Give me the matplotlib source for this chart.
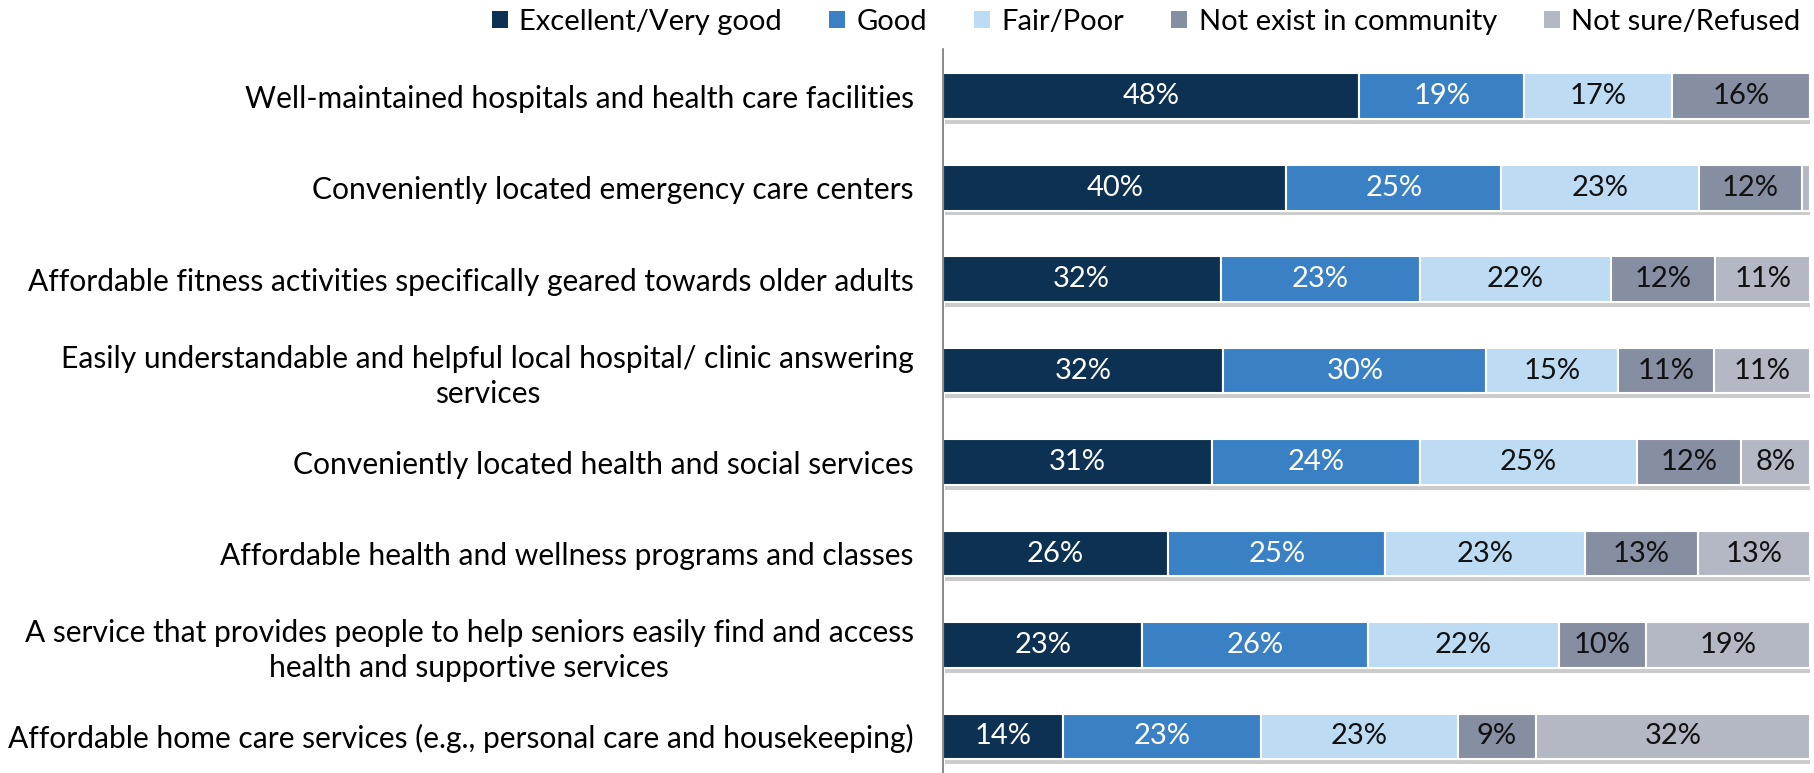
import matplotlib
matplotlib.use("Agg")
import matplotlib.pyplot as plt
import matplotlib.patheffects as pe
import numpy as np

plt.rcParams['font.family'] = ['Lato', 'DejaVu Sans']

categories = [
    "Well-maintained hospitals and health care facilities",
    "Conveniently located emergency care centers",
    "Affordable fitness activities specifically geared towards older adults",
    "Easily understandable and helpful local hospital/ clinic answering\nservices",
    "Conveniently located health and social services",
    "Affordable health and wellness programs and classes",
    "A service that provides people to help seniors easily find and access\nhealth and supportive services",
    "Affordable home care services (e.g., personal care and housekeeping)",
]
series_names = ["Excellent/Very good", "Good", "Fair/Poor", "Not exist in community", "Not sure/Refused"]
excellent = [48, 40, 32, 32, 31, 26, 23, 14]
good = [19, 25, 23, 30, 24, 25, 26, 23]
fair = [17, 23, 22, 15, 25, 23, 22, 23]
not_exist = [16, 12, 12, 11, 12, 13, 10, 9]
not_sure = [0, 1, 11, 11, 8, 13, 19, 32]

colors = ["#0D3152", "#3A80C4", "#BDDBF3", "#868EA2", "#B4B8C4"]
text_colors = ["white", "white", "#111111", "#111111", "#111111"]

FS = 21
LFS = 21.6

data = np.array([excellent, good, fair, not_exist, not_sure], dtype=float)
totals = data.sum(axis=0)
widths = data / totals * 100

fig = plt.figure(figsize=(18.15, 7.73), dpi=100)
ax = fig.add_axes([0.5195, 0.0, 0.478, 0.937])

y = np.arange(len(categories))
left = np.zeros(len(categories))
shadow = [pe.SimplePatchShadow(offset=(1.5, -3.5), shadow_rgbFace='#555555', alpha=0.3), pe.Normal()]
for i, name in enumerate(series_names):
    bars = ax.barh(y, widths[i], left=left, height=0.5, color=colors[i],
                   edgecolor='white', linewidth=1.5, label=name)
    for b in bars:
        b.set_path_effects(shadow)
    for j in range(len(categories)):
        if data[i, j] >= 3:
            ax.text(left[j] + widths[i, j] / 2, y[j], f"{int(data[i, j])}%",
                    ha='center', va='center', color=text_colors[i], fontsize=FS)
    left += widths[i]

ax.set_xlim(0, 100)
ax.set_ylim(7.4, -0.52)
ax.set_yticks(y)
ax.set_yticklabels(categories, fontsize=LFS, ha='right', multialignment='center',
                   linespacing=1.3)
ax.tick_params(axis='y', length=0, pad=21)
ax.tick_params(axis='x', bottom=False, labelbottom=False)
for s in ['top', 'right', 'bottom']:
    ax.spines[s].set_visible(False)
ax.spines['left'].set_color('#777777')
ax.spines['left'].set_linewidth(1.2)

handles, labels = ax.get_legend_handles_labels()
leg = fig.legend(handles, labels, loc='center right', bbox_to_anchor=(0.992, 0.972), ncol=5,
                 frameon=False, fontsize=FS, handlelength=0.55, handleheight=0.55,
                 handletextpad=0.4, columnspacing=1.6, borderpad=0, borderaxespad=0)
for h in leg.legend_handles:
    h.set_path_effects([])
    h.set_edgecolor('none')

fig.savefig("out.png", dpi=100)
